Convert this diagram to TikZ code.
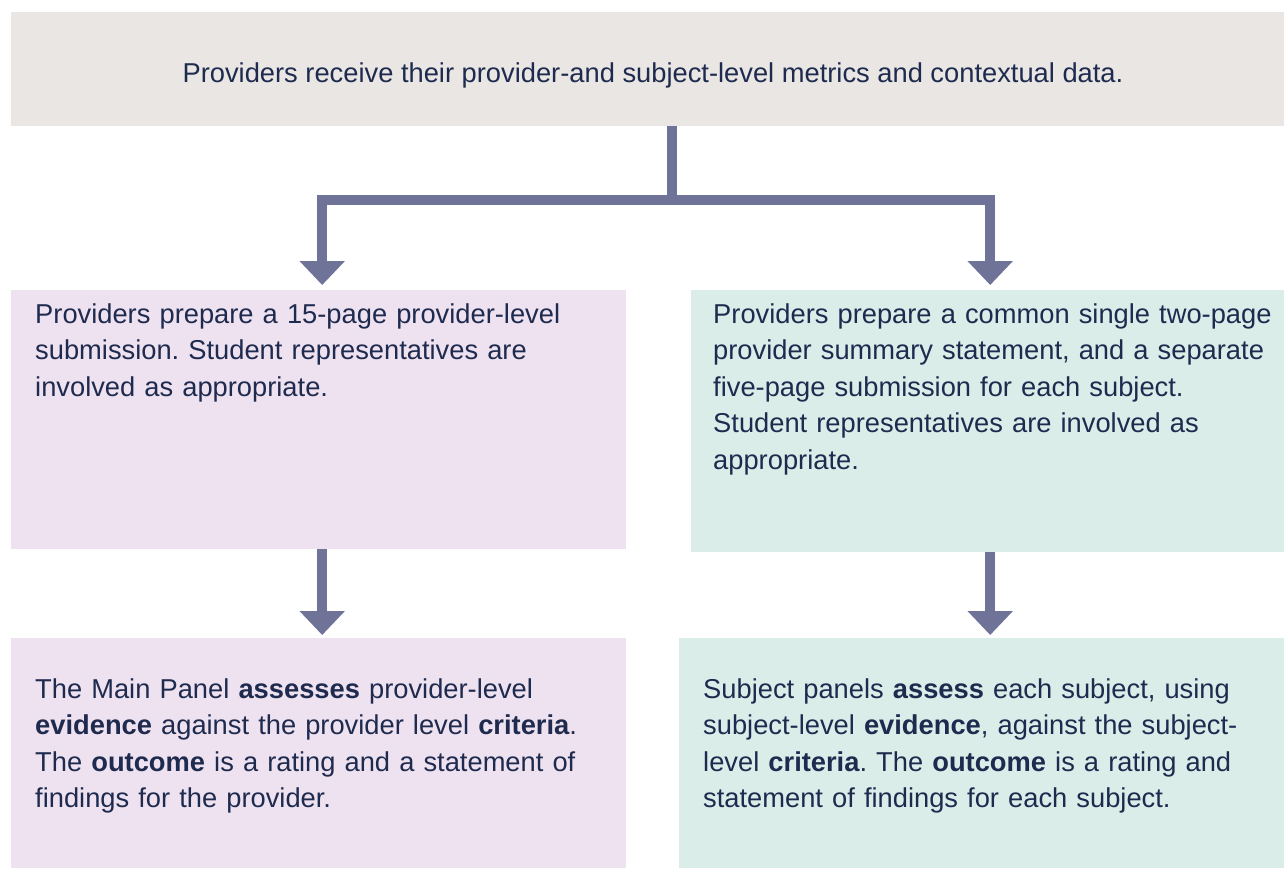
\documentclass[tikz,border=0pt]{standalone}
\usepackage{fontspec}
\setmainfont{Liberation Sans}
\usetikzlibrary{arrows.meta,calc}
\frenchspacing
\definecolor{txt}{HTML}{1E2B4F}
\definecolor{conn}{HTML}{6E7397}
\definecolor{greybox}{HTML}{E9E6E3}
\definecolor{pinkbox}{HTML}{EFE2F0}
\definecolor{greenbox}{HTML}{DBEDE9}
\begin{document}
\begin{tikzpicture}[x=1pt,y=-1pt,
  box/.style={rectangle, draw=none, inner sep=0pt, anchor=north west},
  boxtext/.style={anchor=base west, inner sep=0pt, align=left, text width=600pt, text=txt, font=\fontsize{27.3}{36.5}\selectfont},
  toptext/.style={anchor=base, inner sep=0pt, text=txt, font=\fontsize{27.3}{36.5}\selectfont},
  connector/.style={draw=conn, line width=10pt, line join=miter},
  tip/.style={-{Triangle[width=44pt,length=24pt]}}]
\useasboundingbox[fill=white] (0,0) rectangle (1284,868);
% boxes
\node[box, fill=greybox, minimum width=1273pt, minimum height=114pt] (top) at (11,12) {};
\node[box, fill=pinkbox, minimum width=615pt, minimum height=259pt] (midL) at (11,290) {};
\node[box, fill=greenbox, minimum width=593pt, minimum height=262pt] (midR) at (691,290) {};
\node[box, fill=pinkbox, minimum width=615pt, minimum height=230pt] (botL) at (11,638) {};
\node[box, fill=greenbox, minimum width=605pt, minimum height=230pt] (botR) at (679,638) {};
% texts
\node[toptext] (topT) at (653,82) {Providers receive their provider-and subject-level metrics and contextual data.};
\node[boxtext] (midLT) at (35,323) {Providers prepare a 15-page provider-level\\submission. Student representatives are\\involved as appropriate.};
\node[boxtext] (midRT) at (713,323) {Providers prepare a common single two-page\\provider summary statement, and a separate\\five-page submission for each subject.\\Student representatives are involved as\\appropriate.};
\node[boxtext] (botLT) at (35,698) {The Main Panel \textbf{assesses} provider-level\\\textbf{evidence} against the provider level \textbf{criteria}.\\The \textbf{outcome} is a rating and a statement of\\findings for the provider.};
\node[boxtext] (botRT) at (703,698) {Subject panels \textbf{assess} each subject, using\\subject-level \textbf{evidence}, against the subject-\\level \textbf{criteria}. The \textbf{outcome} is a rating and\\statement of findings for each subject.};
% connectors
\coordinate (split) at (672,200);
\coordinate (aL) at ($(midL.north)+(3.5,-5)$);
\coordinate (aR) at ($(midR.north)+(2.5,-5)$);
\draw[connector] (top.south -| split) -- (split);
\draw[connector,tip] (split) -| (aL);
\draw[connector,tip] (split) -| (aR);
\draw[connector,tip] (midL.south -| aL) -- ($(botL.north -| aL)+(0,-3)$);
\draw[connector,tip] (midR.south -| aR) -- ($(botR.north -| aR)+(0,-3)$);
\end{tikzpicture}
\end{document}
